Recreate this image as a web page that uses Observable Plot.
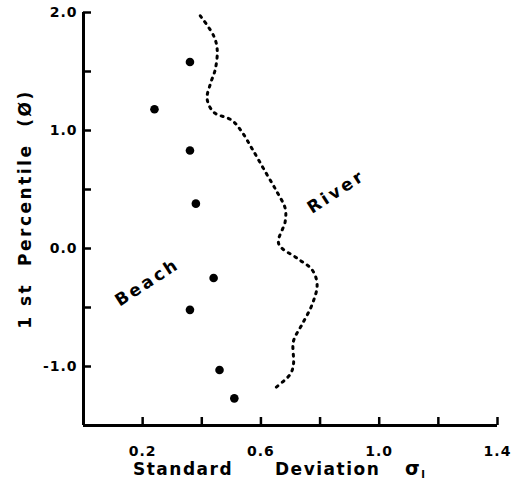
<!DOCTYPE html>
<html><head><meta charset="utf-8">
<script src="https://cdn.jsdelivr.net/npm/d3@7"></script>
<script src="https://cdn.jsdelivr.net/npm/@observablehq/plot@0.6"></script>
<style>body{margin:0;background:#fff}</style>
</head><body><div id="chart"></div>
<script>
// Beach samples (dots)
const beachSigma = [0.36, 0.24, 0.36, 0.38, 0.44, 0.36, 0.46, 0.51];
const beachP1    = [1.58, 1.18, 0.83, 0.38, -0.25, -0.52, -1.03, -1.27];
// River trend (dashed line)
const riverSigma = [0.395, 0.440, 0.452, 0.446, 0.429, 0.418, 0.440, 0.502, 0.536, 0.570, 0.615, 0.654, 0.682, 0.682, 0.660, 0.722, 0.773, 0.790, 0.773, 0.739, 0.710, 0.710, 0.699, 0.643];
const riverP1    = [1.972, 1.803, 1.690, 1.522, 1.395, 1.268, 1.156, 1.086, 0.987, 0.846, 0.650, 0.481, 0.340, 0.228, 0.040, -0.082, -0.180, -0.306, -0.475, -0.644, -0.785, -0.981, -1.066, -1.192];
// Series labels
const seriesNames = ["Beach", "River"];
const labelSigma  = [0.216, 0.855];
const labelP1     = [-0.287, 0.481];
// Ticks
const xTicks = [0.2, 0.4, 0.6, 0.8, 1.0, 1.2, 1.4];
const xLabelTicks = [0.2, 0.6, 1.0, 1.4];
const xTickLabels = ["0.2", "0.6", "1.0", "1.4"];
const yTicks = [-1.0, -0.5, 0.0, 0.5, 1.0, 1.5, 2.0];
const yLabelTicks = [2.0, 1.0, 0.0, -1.0];
const yTickLabels = ["2.0", "1.0", "0.0", "-1.0"];
const xTitle = ["Standard", "Deviation", "σ"];
const yTitle = "1 st  Percentile  (Ø)";

const xDomain = [0, 1.4], yDomain = [-1.5, 2.0];
const beach = beachSigma.map((s, i) => ({sigma: s, p1: beachP1[i]}));
const river = riverSigma.map((s, i) => ({sigma: s, p1: riverP1[i]}));
const labels = seriesNames.map((n, i) => ({name: n, sigma: labelSigma[i], p1: labelP1[i]}));

const W = 520, H = 485, ML = 83, MR = 23, MT = 12, MB = 60, TICK = 8;
const font = "'DejaVu Sans', sans-serif";
const plot = Plot.plot({
  width: W, height: H,
  marginLeft: ML, marginRight: MR, marginTop: MT, marginBottom: MB,
  x: {domain: xDomain},
  y: {domain: yDomain},
  style: {fontFamily: font, fontWeight: "bold", color: "#000", background: "#fff"},
  marks: [
    // inward tick marks: axis ticks shifted back inside the frame
    Plot.axisX({ticks: xTicks, tickSize: TICK, dy: -TICK, strokeWidth: 2.5, tickFormat: () => "", label: null}),
    Plot.axisY({ticks: yTicks, tickSize: TICK, dx: TICK, strokeWidth: 2.5, tickFormat: () => "", label: null}),
    // tick labels
    Plot.axisX({ticks: xLabelTicks, tickSize: 0, tickPadding: 21, fontSize: 14, fontWeight: "bold",
      tickFormat: d => xTickLabels[xLabelTicks.indexOf(d)], label: null}),
    Plot.axisY({ticks: yLabelTicks, tickSize: 0, tickPadding: 6, fontSize: 14, fontWeight: "bold",
      tickFormat: d => yTickLabels[yLabelTicks.indexOf(d)], label: null}),
    Plot.ruleX([xDomain[0]], {strokeWidth: 3}),
    Plot.ruleY([yDomain[0]], {strokeWidth: 3}),
    Plot.line(river, {x: "sigma", y: "p1", curve: "catmull-rom", stroke: "#000", strokeWidth: 3, strokeLinecap: "round", strokeDasharray: "2,5.5"}),
    Plot.dot(beach, {x: "sigma", y: "p1", r: 4.3, fill: "#000"}),
    Plot.text(labels, {x: "sigma", y: "p1", text: "name", rotate: -33, fontSize: 17, fontWeight: "bold"})
  ]
});
document.getElementById("chart").appendChild(plot);

const svg = d3.select(plot);
svg.selectAll("text").attr("letter-spacing", "1px");
svg.selectAll("g[aria-label='text'] text").attr("letter-spacing", "3px");
const t = svg.append("text").attr("y", 475).attr("font-size", 17).attr("font-weight", "bold")
  .attr("text-anchor", "start").attr("letter-spacing", "1.5px").attr("font-family", font).attr("fill", "#000");
t.append("tspan").attr("x", 133).text(xTitle[0]);
t.append("tspan").attr("x", 275).text(xTitle[1]);
t.append("tspan").attr("x", 405).attr("font-size", 19).text(xTitle[2]);
t.append("tspan").attr("font-size", 10).attr("dy", 3).text("I");
svg.append("text").attr("transform", "translate(31,209) rotate(-90)").attr("text-anchor", "middle")
  .attr("font-size", 17).attr("font-weight", "bold").attr("letter-spacing", "2.5px").attr("font-family", font)
  .attr("fill", "#000").style("white-space", "pre").text(yTitle);
</script></body></html>
